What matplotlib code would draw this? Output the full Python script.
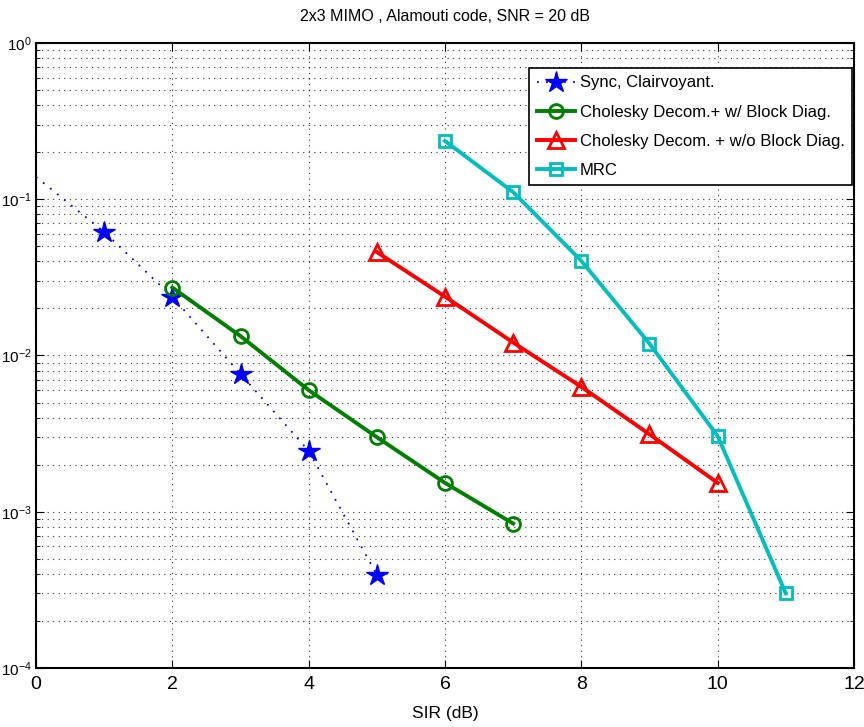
import numpy as np
import matplotlib.pyplot as plt
from matplotlib.ticker import LogLocator, FixedLocator

# DATOS
sync_x = [0, 1, 2, 3, 4, 5]
sync_y = [0.139, 0.0617, 0.0237, 0.00762, 0.00245, 0.000394]

chol_bd_x = [2, 3, 4, 5, 6, 7]
chol_bd_y = [0.0272, 0.0133, 0.0060, 0.0030, 0.00153, 0.00084]

chol_nobd_x = [5, 6, 7, 8, 9, 10]
chol_nobd_y = [0.0459, 0.0238, 0.0121, 0.0063, 0.00313, 0.00153]

mrc_x = [6, 7, 8, 9, 10, 11]
mrc_y = [0.236, 0.111, 0.0403, 0.0119, 0.00305, 0.00030]

labels = ["Sync, Clairvoyant.",
          "Cholesky Decom.+ w/ Block Diag.",
          "Cholesky Decom. + w/o Block Diag.",
          "MRC"]

plt.rcParams['font.family'] = ['Liberation Sans', 'DejaVu Sans']
plt.rcParams['mathtext.fontset'] = 'custom'
plt.rcParams['mathtext.rm'] = 'Liberation Sans'
plt.rcParams['mathtext.default'] = 'regular'

fig = plt.figure(figsize=(8.64, 7.27), dpi=100)
ax = fig.add_axes([0.0417, 0.0812, 0.9467, 0.8597])

ax.semilogy(sync_x, sync_y, color="blue", linestyle=(0, (1, 4)), linewidth=1.3,
            marker="*", markersize=16, markevery=slice(1, None), label=labels[0])
ax.semilogy(chol_bd_x, chol_bd_y, color="green", linewidth=2.8, marker="o",
            markersize=10, markerfacecolor="none", markeredgewidth=2, label=labels[1])
ax.semilogy(chol_nobd_x, chol_nobd_y, color="red", linewidth=2.8, marker="^",
            markersize=12, markerfacecolor="none", markeredgewidth=2, label=labels[2])
ax.semilogy(mrc_x, mrc_y, color="#00BFBF", linewidth=2.8, marker="s",
            markersize=9, markerfacecolor="none", markeredgewidth=2, label=labels[3])

ax.set_xlim(0, 12)
ax.set_ylim(1e-4, 1)
ax.xaxis.set_major_locator(FixedLocator(np.arange(0, 13, 2)))
ax.yaxis.set_major_locator(LogLocator(base=10, numticks=10))
ax.yaxis.set_minor_locator(LogLocator(base=10, subs=np.arange(2, 10), numticks=20))

# CUADRÍCULA PUNTEADA
ax.grid(True, which="major", color="black", linestyle=(0, (1, 4)), linewidth=0.8, alpha=0.8)
ax.grid(True, which="minor", axis="y", color="black", linestyle=(0, (1, 4)), linewidth=0.8, alpha=0.8)

ax.tick_params(which="both", direction="in", top=True, right=True)
ax.tick_params(which="major", length=6)
ax.tick_params(which="minor", length=3)
ax.tick_params(axis="x", labelsize=14, pad=6)
ax.tick_params(axis="y", labelsize=11, pad=3)
for s in ax.spines.values():
    s.set_linewidth(1.5)

ax.set_xlabel("SIR (dB)", fontsize=12.5, labelpad=9)
ax.set_title("2x3 MIMO , Alamouti code, SNR = 20 dB", fontsize=11.5, pad=16)

leg = ax.legend(loc="upper right", bbox_to_anchor=(0.998, 0.96), fontsize=12,
                fancybox=False, framealpha=1, edgecolor="black",
                borderaxespad=0, handlelength=2.3, handletextpad=0.3,
                labelspacing=0.85, borderpad=0.45)
leg.get_frame().set_linewidth(1.2)

fig.savefig("out.png", dpi=100)
